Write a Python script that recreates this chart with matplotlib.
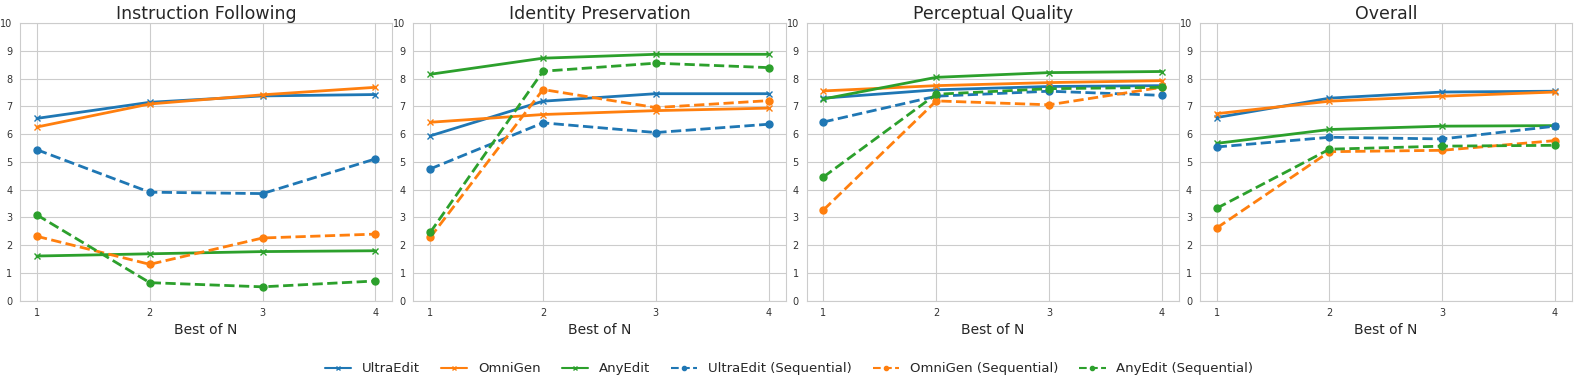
import numpy as np
import matplotlib
matplotlib.use("Agg")
import matplotlib.pyplot as plt
import seaborn as sns

# ============== data ==============
best_of_n = [1, 2, 3, 4]
titles = ["Instruction Following", "Identity Preservation", "Perceptual Quality", "Overall"]
models = ["UltraEdit", "OmniGen", "AnyEdit"]

ultraedit = [[6.57, 7.15, 7.38, 7.43], [5.94, 7.19, 7.46, 7.46],
             [7.30, 7.60, 7.72, 7.75], [6.60, 7.30, 7.52, 7.55]]
omnigen = [[6.26, 7.09, 7.42, 7.69], [6.43, 6.71, 6.85, 6.94],
           [7.56, 7.75, 7.86, 7.93], [6.74, 7.19, 7.37, 7.52]]
anyedit = [[1.61, 1.69, 1.77, 1.80], [8.16, 8.74, 8.88, 8.88],
           [7.27, 8.05, 8.22, 8.26], [5.67, 6.17, 6.29, 6.31]]

ultraedit_seq = [[5.44, 3.91, 3.86, 5.11], [4.75, 6.41, 6.06, 6.36],
                 [6.44, 7.37, 7.55, 7.40], [5.54, 5.89, 5.83, 6.29]]
omnigen_seq = [[2.32, 1.31, 2.26, 2.40], [2.28, 7.61, 6.96, 7.21],
               [3.27, 7.20, 7.06, 7.69], [2.62, 5.37, 5.42, 5.77]]
anyedit_seq = [[3.09, 0.65, 0.50, 0.71], [2.46, 8.27, 8.56, 8.40],
               [4.46, 7.44, 7.64, 7.69], [3.33, 5.46, 5.57, 5.60]]
# ==========================================================

sns.set_style("whitegrid")
colors = ["#1f77b4", "#ff7f0e", "#2ca02c"]

fig, axes = plt.subplots(1, 4, figsize=(15.78, 3.87), dpi=100)
fig.subplots_adjust(left=0.0127, right=0.9962, top=0.94, bottom=0.223, wspace=0.0564)

for i, ax in enumerate(axes):
    direct = [ultraedit[i], omnigen[i], anyedit[i]]
    seq = [ultraedit_seq[i], omnigen_seq[i], anyedit_seq[i]]
    for name, vals, c in zip(models, direct, colors):
        ax.plot(best_of_n, vals, color=c, marker='x', markersize=5, linewidth=2, label=name)
    for name, vals, c in zip(models, seq, colors):
        ax.plot(best_of_n, vals, color=c, marker='o', markersize=5, linewidth=2,
                linestyle='--', label=name + " (Sequential)")
    ax.set_title(titles[i], fontsize=12.5, pad=3)
    ax.set_xlabel("Best of N", fontsize=10, labelpad=3)
    ax.set_xticks(best_of_n)
    ax.set_ylim(0, 10)
    ax.set_yticks(range(0, 11))
    ax.tick_params(labelsize=7, pad=2, labelcolor='#333333')

handles, labels = axes[0].get_legend_handles_labels()
leg = fig.legend(handles, labels, loc='lower center', ncol=6, frameon=False,
                 fontsize=9.5, bbox_to_anchor=(0.5, 0.0), columnspacing=1.6,
                 handlelength=2.0, markerscale=0.6)
for h in leg.legend_handles:
    h.set_linewidth(1.5)

plt.savefig("out.png", dpi=100)
plt.close()
